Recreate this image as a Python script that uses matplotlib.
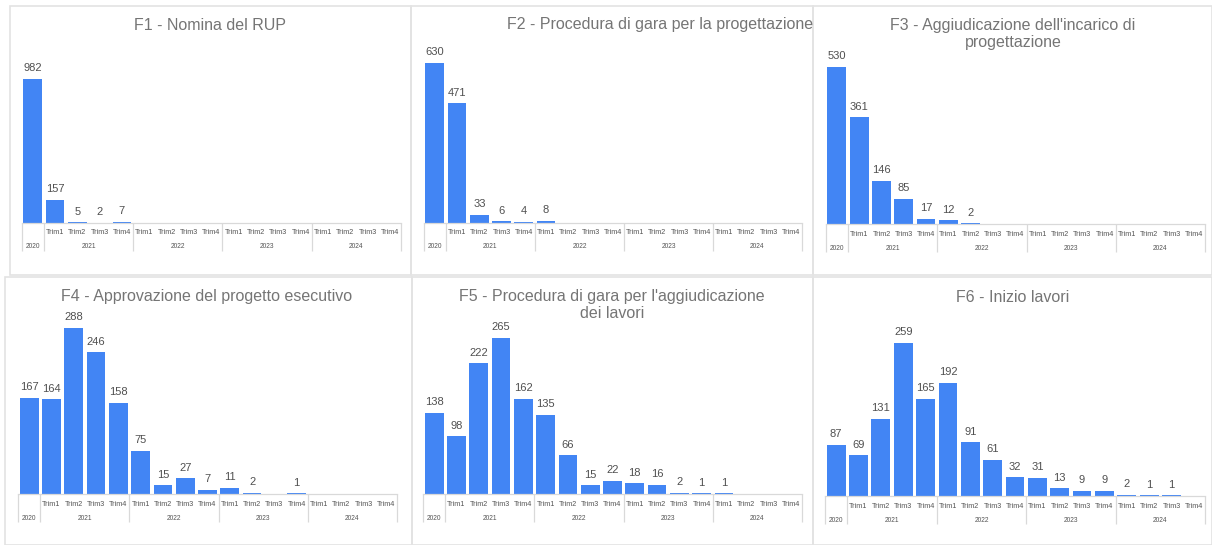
import matplotlib.pyplot as plt
from matplotlib.patches import Rectangle

plt.rcParams["font.family"] = ["Liberation Sans", "DejaVu Sans"]

W, H = 1212, 545

# quarters: 2020 (one column), then Trim1-4 for 2021..2024
years = ["2020", "2021", "2022", "2023", "2024"]
trims = ["Trim1", "Trim2", "Trim3", "Trim4"]

titles = [
    "F1 - Nomina del RUP",
    "F2 - Procedura di gara per la progettazione",
    "F3 - Aggiudicazione dell'incarico di\nprogettazione",
    "F4 - Approvazione del progetto esecutivo",
    "F5 - Procedura di gara per l'aggiudicazione\ndei lavori",
    "F6 - Inizio lavori",
]

f1 = [982, 157, 5, 2, 7, 0, 0, 0, 0, 0, 0, 0, 0, 0, 0, 0, 0]
f2 = [630, 471, 33, 6, 4, 8, 0, 0, 0, 0, 0, 0, 0, 0, 0, 0, 0]
f3 = [530, 361, 146, 85, 17, 12, 2, 0, 0, 0, 0, 0, 0, 0, 0, 0, 0]
f4 = [167, 164, 288, 246, 158, 75, 15, 27, 7, 11, 2, 0, 1, 0, 0, 0, 0]
f5 = [138, 98, 222, 265, 162, 135, 66, 15, 22, 18, 16, 2, 1, 1, 0, 0, 0]
f6 = [87, 69, 131, 259, 165, 192, 91, 61, 32, 31, 13, 9, 9, 2, 1, 1, 0]
series = [f1, f2, f3, f4, f5, f6]

# layout in pixels: panel box, plot x-range, baseline, top of tallest bar, title pos
boxes = [(10, 6, 411, 275), (411, 6, 813, 275), (813, 6, 1212, 275),
         (5, 277, 412, 545), (412, 277, 813, 545), (813, 277, 1212, 545)]
plots = [(21.5, 401, 223, 79), (423.7, 802, 223, 63), (825.7, 1205, 224, 67),
         (18, 397, 494, 328), (423, 802, 494, 338), (825, 1205, 496, 343)]
title_xy = [(210, 25), (660, 25), (1013, 34), (207, 296), (612, 305), (1013, 297)]

BLUE = "#4285f4"
GRID = "#d9d9d9"

fig = plt.figure(figsize=(W / 100, H / 100), dpi=100)

for (bx0, by0, bx1, by1) in boxes:
    fig.patches.append(Rectangle((bx0 / W, 1 - by1 / H), (bx1 - bx0) / W, (by1 - by0) / H,
                                 transform=fig.transFigure, fill=False,
                                 edgecolor="#e3e3e3", lw=1.2))

for vals, title, (x0, x1, base, top), (tx, ty) in zip(series, titles, plots, title_xy):
    vmax = max(vals)
    ax = fig.add_axes([x0 / W, (H - base) / H, (x1 - x0) / W, (base - top) / H])
    ax.set_xlim(-0.5, 16.5)
    ax.set_ylim(0, vmax)
    ax.axis("off")
    xs = list(range(len(vals)))
    bars = ax.bar(xs, vals, width=0.84, color=BLUE)
    ax.bar_label(bars, labels=["" if v == 0 else str(v) for v in vals],
                 padding=4, fontsize=8, color="#505050")

    u = vmax / (base - top)  # data units per pixel
    ax.plot([-0.5, 16.5], [0, 0], color=GRID, lw=0.9, clip_on=False)
    ax.vlines([-0.5, 0.5, 4.5, 8.5, 12.5, 16.5], -28 * u, 0, color=GRID, lw=0.9,
              clip_on=False)
    for i in range(1, 17):
        ax.text(i, -10 * u, trims[(i - 1) % 4], ha="center", va="center",
                fontsize=5.2, color="#555555", clip_on=False)
    for k, yr in enumerate(years):
        xc = 0 if k == 0 else 4 * k - 1.5
        ax.text(xc, -24 * u, yr, ha="center", va="center", fontsize=4.8,
                color="#555555", clip_on=False)

    fig.text(tx / W, 1 - ty / H, title, ha="center", va="center", fontsize=11.5,
             color="#757575", linespacing=1.2)

fig.savefig("out.png", dpi=100, facecolor="white")
